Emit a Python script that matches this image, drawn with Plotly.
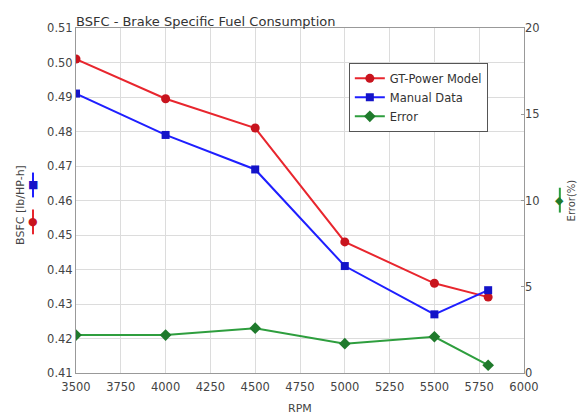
import plotly.graph_objects as go

rpm = [3500, 4000, 4500, 5000, 5500, 5800]
gt_power = [0.501, 0.4895, 0.481, 0.448, 0.436, 0.432]
manual = [0.491, 0.479, 0.469, 0.441, 0.427, 0.434]
error_pct = [2.2, 2.2, 2.6, 1.7, 2.1, 0.45]
x_ticks = list(range(3500, 6001, 250))
y_ticks = [0.41, 0.42, 0.43, 0.44, 0.45, 0.46, 0.47, 0.48, 0.49, 0.50, 0.51]
y2_ticks = [0, 5, 10, 15, 20]

RED = "#e8262e"
RED_M = "#c8141e"
BLUE = "#1f1fff"
BLUE_M = "#1414c8"
GREEN = "#2e9e3e"
GREEN_M = "#1f7a2c"

fig = go.Figure()
fig.add_trace(go.Scatter(x=rpm, y=gt_power, name="GT-Power Model", mode="lines+markers",
                         line=dict(color=RED, width=2),
                         marker=dict(symbol="circle", size=9, color=RED_M)))
fig.add_trace(go.Scatter(x=rpm, y=manual, name="Manual Data", mode="lines+markers",
                         line=dict(color=BLUE, width=2),
                         marker=dict(symbol="square", size=8, color=BLUE_M)))
fig.add_trace(go.Scatter(x=rpm, y=error_pct, name="Error", mode="lines+markers", yaxis="y2",
                         line=dict(color=GREEN, width=2),
                         marker=dict(symbol="diamond", size=9, color=GREEN_M)))

font = "DejaVu Sans, Liberation Sans, sans-serif"
fig.update_layout(
    width=578, height=417,
    margin=dict(l=76, r=54, t=28, b=44, autoexpand=False),
    paper_bgcolor="white", plot_bgcolor="white",
    font=dict(family=font, size=11.5, color="#444"),
    showlegend=True,
    legend=dict(x=0.609, y=0.899, xanchor="left", yanchor="top",
                bgcolor="white", bordercolor="#555", borderwidth=1,
                font=dict(size=11.5, color="#333"), tracegroupgap=0,
                itemwidth=30),
    xaxis=dict(range=[3500, 6000], tickvals=x_ticks,
               showgrid=True, gridcolor="#dcdcdc", gridwidth=1, automargin=False,
               showline=True, linecolor="#999", mirror=True, zeroline=False,
               ticks="", ticklabelstandoff=3),
    yaxis=dict(range=[0.41, 0.51], tickvals=y_ticks, tickformat=".2f",
               showgrid=True, gridcolor="#dcdcdc", gridwidth=1, automargin=False,
               showline=True, linecolor="#999", mirror=True, zeroline=False,
               ticks=""),
    yaxis2=dict(range=[0, 20], tickvals=y2_ticks, overlaying="y", side="right",
                showgrid=False, zeroline=False, showline=False, ticks="inside", ticklen=3,
                tickcolor="#999", automargin=False),
    annotations=[
        dict(text="BSFC - Brake Specific Fuel Consumption", xref="paper", yref="paper",
             x=0, y=1, xanchor="left", yanchor="bottom", showarrow=False,
             font=dict(size=13, color="#333"), yshift=-3, xshift=-2),
        dict(text="BSFC [lb/HP-h]", xref="paper", yref="paper", x=-0.123, y=0.487,
             textangle=-90, showarrow=False, xanchor="center", yanchor="middle",
             font=dict(size=11, color="#444")),
        dict(text="Error(%)", xref="paper", yref="paper", x=1.107, y=0.5,
             textangle=-90, showarrow=False, xanchor="center", yanchor="middle",
             font=dict(size=10, color="#444")),
        dict(text="RPM", xref="paper", yref="paper", x=0.5, y=-0.104,
             showarrow=False, xanchor="center", yanchor="middle",
             font=dict(size=11, color="#444")),
    ],
)

# Legend glyphs beside axis titles
glyphs = [
    (-0.096, 0.545, BLUE_M, "■", BLUE),
    (-0.096, 0.438, RED_M, "●", RED),
    (1.080, 0.501, GREEN_M, "◆", GREEN),
]
for gx, gy, mc, ch, lc in glyphs:
    fig.add_shape(type="line", xref="paper", yref="paper", x0=gx, x1=gx,
                  y0=gy - 0.036, y1=gy + 0.036, line=dict(color=lc, width=2))
    fig.add_annotation(text=ch, xref="paper", yref="paper", x=gx, y=gy,
                       showarrow=False, font=dict(size=11, color=mc),
                       xanchor="center", yanchor="middle")

fig.write_html("out.html", config={"displayModeBar": False})
with open("out.html", encoding="utf-8") as f:
    html = f.read()
html = html.replace("<head>", "<head><style>html,body{margin:0;padding:0;overflow:hidden;}</style>", 1)
with open("out.html", "w", encoding="utf-8") as f:
    f.write(html)
